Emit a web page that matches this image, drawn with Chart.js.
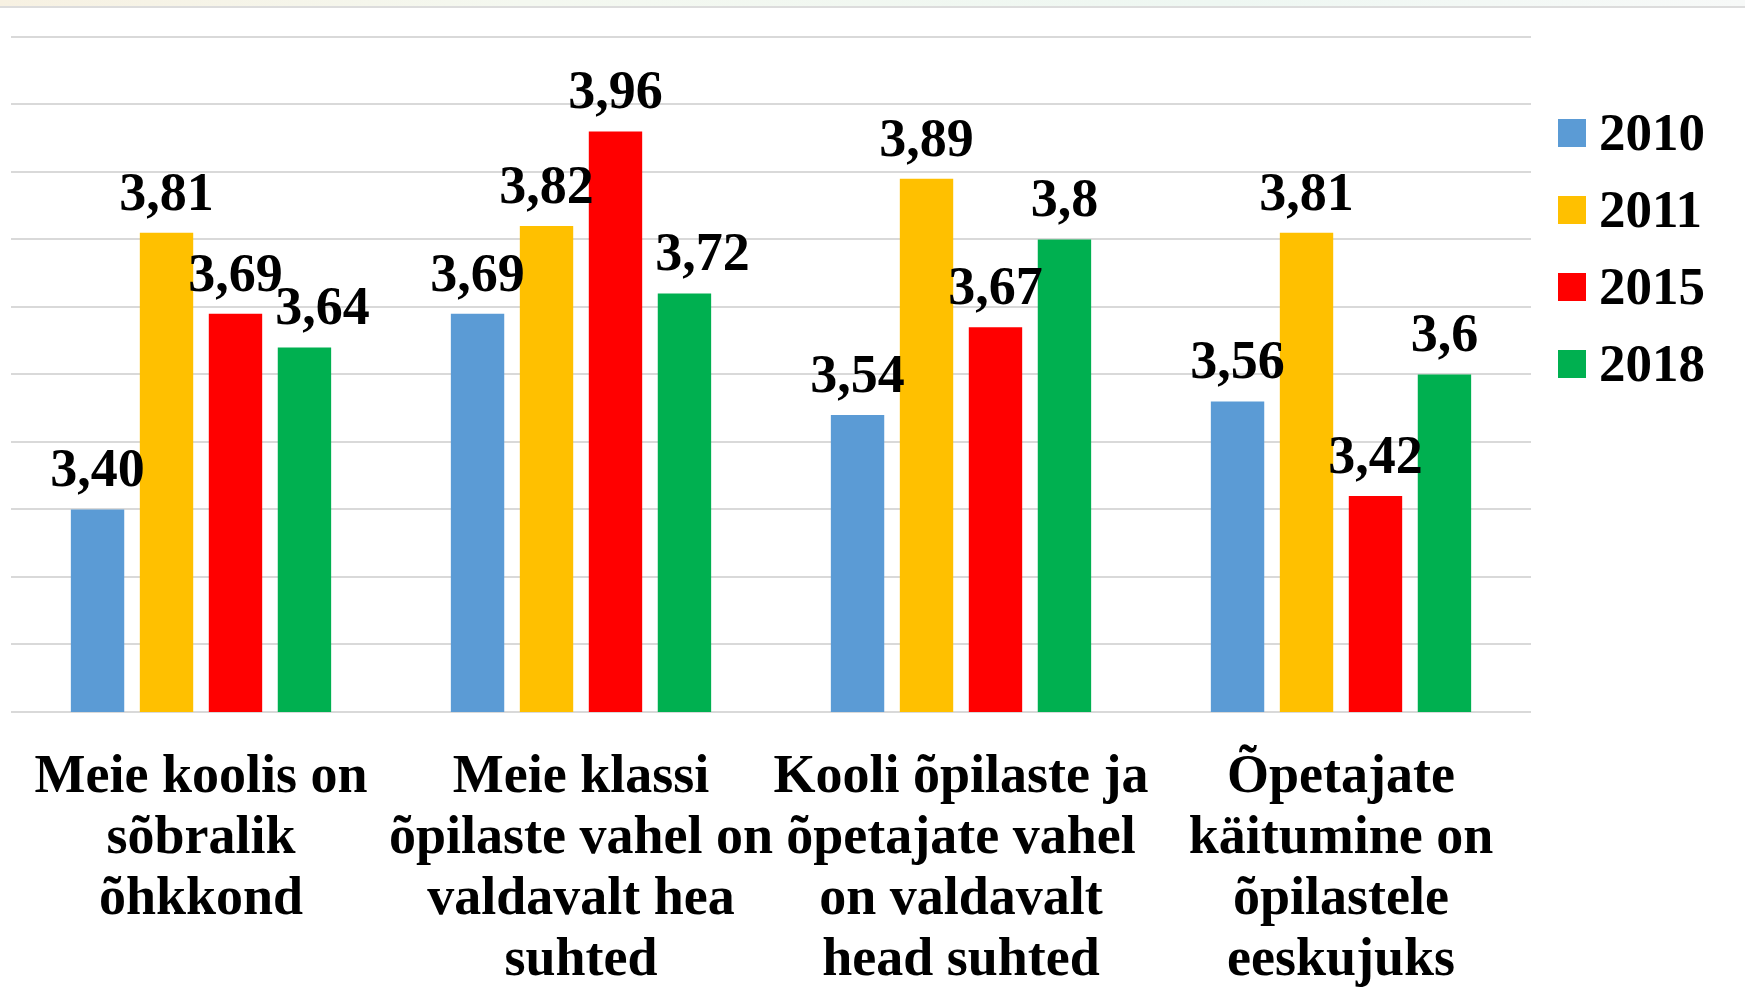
<!DOCTYPE html>
<html>
<head>
<meta charset="utf-8">
<title>Õpilaste hinnangud</title>
<script src="https://cdn.jsdelivr.net/npm/chart.js@4.4.0/dist/chart.umd.min.js"></script>
<style>
  body { margin: 0; background: #fff; }
  #wrap { position: relative; width: 1745px; height: 1000px; }
  #topbar {
    position: absolute; left: 0; top: 0; width: 1745px; height: 6px;
    background: linear-gradient(to right, #f7f1e2, #f4f8f0 30%, #eef7f2 70%, #f7f9f8);
    border-bottom: 2px solid #dcdcdc;
  }
  canvas { position: absolute; left: 0; top: 0; }
</style>
</head>
<body>
<div id="wrap">
  <canvas id="chart" width="1745" height="1000"></canvas>
  <div id="topbar"></div>
</div>
<script>
// categories (multi-line labels under the bars)
const categories = [
  ["Meie koolis on", "sõbralik", "õhkkond"],
  ["Meie klassi", "õpilaste vahel on", "valdavalt hea", "suhted"],
  ["Kooli õpilaste ja", "õpetajate vahel", "on valdavalt", "head suhted"],
  ["Õpetajate", "käitumine on", "õpilastele", "eeskujuks"]
];

const years = ["2010", "2011", "2015", "2018"];

// values
const values2010 = [3.40, 3.69, 3.54, 3.56];
const values2011 = [3.81, 3.82, 3.89, 3.81];
const values2015 = [3.69, 3.96, 3.67, 3.42];
const values2018 = [3.64, 3.72, 3.80, 3.60];

// label text as printed in the picture (comma decimals)
const text2010 = ["3,40", "3,69", "3,54", "3,56"];
const text2011 = ["3,81", "3,82", "3,89", "3,81"];
const text2015 = ["3,69", "3,96", "3,67", "3,42"];
const text2018 = ["3,64", "3,72", "3,8", "3,6"];

// value axis
const yMin = 3.1;
const yMax = 4.1;
const yStep = 0.1;

const colors = ['#5B9BD5', '#FFC000', '#FF0000', '#00B050'];
const serif = '"Times New Roman", "Liberation Serif", serif';

// numbers above bars
const valueLabels = {
  id: 'valueLabels',
  afterDatasetsDraw(chart, args, opts) {
    const ctx = chart.ctx;
    ctx.save();
    ctx.font = opts.font;
    ctx.fillStyle = '#000';
    ctx.textAlign = 'center';
    ctx.textBaseline = 'alphabetic';
    chart.data.datasets.forEach((ds, di) => {
      chart.getDatasetMeta(di).data.forEach((bar, i) => {
        const shift = opts.shift[di + '-' + i] || 0;
        ctx.fillText(ds.valueText[i], bar.x + shift, bar.y - opts.gap);
      });
    });
    ctx.restore();
  }
};

// legend on the right side
const sideLegend = {
  id: 'sideLegend',
  afterDraw(chart, args, opts) {
    const ctx = chart.ctx;
    ctx.save();
    ctx.font = opts.font;
    ctx.textAlign = 'left';
    ctx.textBaseline = 'alphabetic';
    chart.data.datasets.forEach((ds, i) => {
      const top = opts.top + i * opts.step;
      ctx.fillStyle = ds.backgroundColor;
      ctx.fillRect(opts.x, top, opts.box, opts.box);
      ctx.fillStyle = '#000';
      ctx.fillText(ds.label, opts.textX, top + opts.baseline);
    });
    ctx.restore();
  }
};

const seriesValues = [values2010, values2011, values2015, values2018];
const seriesText = [text2010, text2011, text2015, text2018];

new Chart(document.getElementById('chart').getContext('2d'), {
  type: 'bar',
  data: {
    labels: categories,
    datasets: years.map((year, i) => ({
      label: year,
      data: seriesValues[i],
      valueText: seriesText[i],
      backgroundColor: colors[i],
      borderWidth: 0,
      categoryPercentage: 0.726,
      barPercentage: 0.774
    }))
  },
  options: {
    responsive: false,
    animation: false,
    layout: { padding: { left: 11, right: 214, top: 37, bottom: -28 } },
    plugins: {
      legend: { display: false },
      tooltip: { enabled: false },
      valueLabels: {
        font: 'bold 54px ' + serif,
        gap: 23,
        shift: { '3-0': 18, '3-1': 18 }
      },
      sideLegend: {
        font: 'bold 53px ' + serif,
        x: 1558, textX: 1599, top: 119, step: 77, box: 28, baseline: 31
      }
    },
    scales: {
      x: {
        grid: { display: false, drawTicks: false },
        border: { display: false },
        ticks: {
          color: '#000',
          font: { family: serif, size: 54, weight: 'bold', lineHeight: 1.13 },
          padding: 36,
          maxRotation: 0,
          minRotation: 0,
          autoSkip: false
        },
        // labels fit inside the plot width, so no extra side padding
        afterFit(scale) {
          scale.paddingLeft = 0;
          scale.paddingRight = 0;
        }
      },
      y: {
        min: yMin,
        max: yMax,
        ticks: { display: false, stepSize: yStep },
        grid: { color: '#d9d9d9', lineWidth: 2, drawTicks: false },
        border: { display: false }
      }
    }
  },
  plugins: [valueLabels, sideLegend]
});
</script>
</body>
</html>
